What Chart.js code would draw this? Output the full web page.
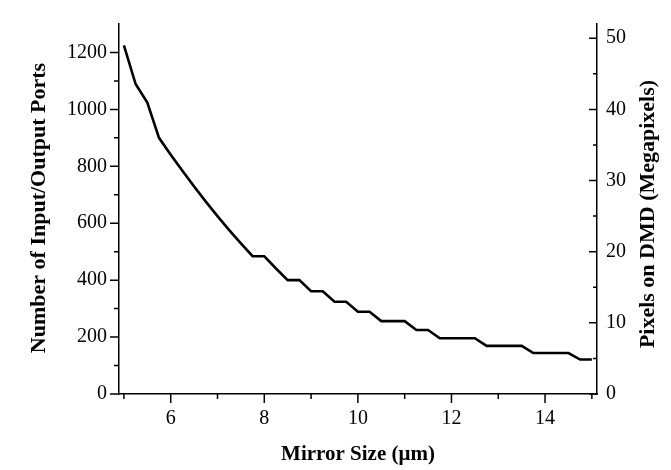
<!DOCTYPE html>
<html>
<head>
<meta charset="utf-8">
<script src="https://cdn.jsdelivr.net/npm/chart.js@4.4.0/dist/chart.umd.min.js"></script>
<style>
  html, body { margin: 0; padding: 0; background: #fff; }
  canvas { display: block; }
</style>
</head>
<body>
<canvas id="mirrorChart" width="671" height="470"></canvas>
<script>
// mirror size (um) vs number of input/output ports
const mirrorSize = [5, 5.25, 5.5, 5.75, 6, 6.25, 6.5, 6.75, 7, 7.25, 7.5, 7.75, 8, 8.25, 8.5, 8.75,
  9, 9.25, 9.5, 9.75, 10, 10.25, 10.5, 10.75, 11, 11.25, 11.5, 11.75, 12, 12.25, 12.5, 12.75,
  13, 13.25, 13.5, 13.75, 14, 14.25, 14.5, 14.75, 15];
const ports = [1225, 1089, 1024, 900, 841, 784, 729, 676, 625, 576, 529, 484, 484, 441, 400, 400,
  361, 361, 324, 324, 289, 289, 256, 256, 256, 225, 225, 196, 196, 196, 196, 169,
  169, 169, 169, 144, 144, 144, 144, 121, 121];

const xTicks = [6, 8, 10, 12, 14];
const xMinor = [5, 7, 9, 11, 13, 15];
const portTicks = [0, 200, 400, 600, 800, 1000, 1200];
const portMinor = [100, 300, 500, 700, 900, 1100];
const pixelTicks = [0, 10, 20, 30, 40, 50];
const pixelMinor = [5, 15, 25, 35, 45];

const serif = '"Liberation Serif", "Times New Roman", serif';

// tick marks (left/bottom outward, right inward) + the two vertical titles
const axisMarks = {
  id: 'axisMarks',
  afterDraw(chart) {
    const ctx = chart.ctx;
    const { x, y, y1 } = chart.scales;
    ctx.save();
    ctx.strokeStyle = '#000';
    ctx.lineWidth = 1.5;
    ctx.beginPath();
    const mark = (a, b, c, d) => { ctx.moveTo(a, b); ctx.lineTo(c, d); };
    xTicks.forEach(v => { const p = x.getPixelForValue(v); mark(p, x.top, p, x.top + 9); });
    xMinor.forEach(v => { const p = x.getPixelForValue(v); mark(p, x.top, p, x.top + 5); });
    portTicks.forEach(v => { const p = y.getPixelForValue(v); mark(y.right - 9, p, y.right, p); });
    portMinor.forEach(v => { const p = y.getPixelForValue(v); mark(y.right - 5, p, y.right, p); });
    pixelTicks.forEach(v => { const p = y1.getPixelForValue(v); mark(y1.left - 8, p, y1.left, p); });
    pixelMinor.forEach(v => { const p = y1.getPixelForValue(v); mark(y1.left - 4, p, y1.left, p); });
    ctx.stroke();

    ctx.fillStyle = '#000';
    ctx.font = 'bold 22px ' + serif;
    ctx.textAlign = 'center';
    ctx.textBaseline = 'middle';
    const vTitle = (text, cx, cy) => {
      ctx.save();
      ctx.translate(cx, cy);
      ctx.rotate(-Math.PI / 2);
      ctx.fillText(text, 0, 0);
      ctx.restore();
    };
    vTitle('Number of Input/Output Ports', y.left + 39, 208);
    vTitle('Pixels on DMD (Megapixels)', y1.right - 23, 214);
    ctx.restore();
  }
};

const tickFont = { family: serif, size: 20 };
const titleFont = { family: serif, size: 21, weight: 'bold' };
const border = { display: true, color: '#000', width: 1.5 };
const noGrid = { display: false, drawTicks: false };
const plain = v => String(v);

new Chart(document.getElementById('mirrorChart'), {
  type: 'line',
  data: {
    datasets: [{
      data: mirrorSize.map((v, i) => ({ x: v, y: ports[i] })),
      borderColor: '#000',
      borderWidth: 2.6,
      pointRadius: 0,
      tension: 0,
      fill: false,
      yAxisID: 'y'
    }]
  },
  options: {
    responsive: false,
    animation: false,
    layout: { padding: { top: 7, left: 0, right: 0, bottom: 0 } },
    plugins: { legend: { display: false }, tooltip: { enabled: false } },
    scales: {
      x: {
        type: 'linear',
        position: 'bottom',
        min: 4.895,
        max: 15.11,
        afterBuildTicks: s => { s.ticks = xTicks.map(v => ({ value: v })); },
        afterFit: s => { s.height = 76; },
        ticks: { font: tickFont, color: '#000', padding: 13, autoSkip: false, maxRotation: 0, callback: plain },
        grid: noGrid,
        border: border,
        title: { display: true, text: 'Mirror Size (μm)', font: titleFont, color: '#000', padding: { top: 0, bottom: 2.4 } }
      },
      y: {
        position: 'left',
        min: 0,
        max: 1300,
        afterBuildTicks: s => { s.ticks = portTicks.map(v => ({ value: v })); },
        afterFit: s => { s.width = 119; },
        ticks: { font: tickFont, color: '#000', padding: 12, autoSkip: false, callback: plain },
        grid: noGrid,
        border: border
      },
      y1: {
        position: 'right',
        min: 0,
        max: 52,
        afterBuildTicks: s => { s.ticks = pixelTicks.map(v => ({ value: v })); },
        afterFit: s => { s.width = 74; },
        ticks: { font: tickFont, color: '#000', padding: 9, autoSkip: false, callback: plain },
        grid: noGrid,
        border: border
      }
    }
  },
  plugins: [axisMarks]
});
</script>
</body>
</html>
